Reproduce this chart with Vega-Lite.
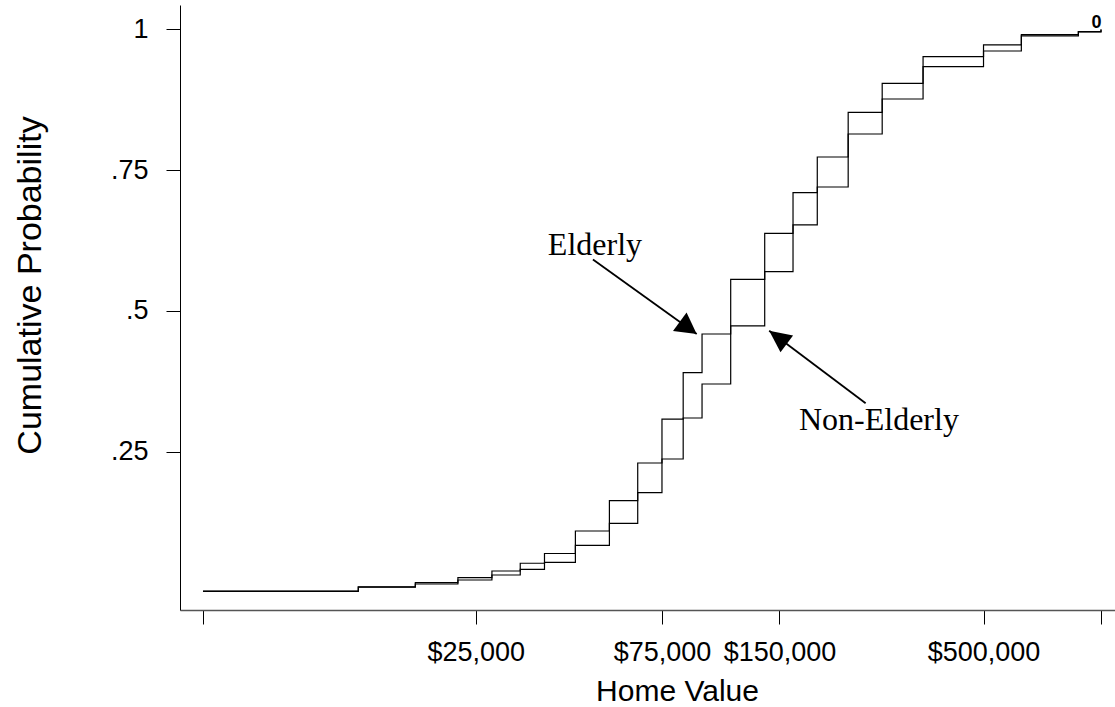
{
  "$schema": "https://vega.github.io/schema/vega-lite/v6.json",
  "width": 935,
  "height": 605,
  "autosize": {"type": "none"},
  "padding": {"left": 180, "top": 5, "right": 0, "bottom": 97},
  "background": "white",
  "config": {
    "view": {"stroke": null},
    "font": "Liberation Sans",
    "axis": {
      "grid": false,
      "domainColor": "black",
      "domainWidth": 1,
      "tickColor": "black",
      "tickWidth": 1,
      "tickSize": 14,
      "labelColor": "black",
      "labelFont": "Liberation Sans",
      "labelFontSize": 27,
      "titleColor": "black",
      "titleFont": "Liberation Sans",
      "titleFontWeight": "normal",
      "labelOverlap": false,
      "labelFlush": false
    }
  },
  "datasets": {
    "cdf": [
      {"value": 5000, "prob": 0.0025, "group": "Elderly"},
      {"value": 12500, "prob": 0.0100, "group": "Elderly"},
      {"value": 17500, "prob": 0.0174, "group": "Elderly"},
      {"value": 22500, "prob": 0.0263, "group": "Elderly"},
      {"value": 27500, "prob": 0.0382, "group": "Elderly"},
      {"value": 32500, "prob": 0.0519, "group": "Elderly"},
      {"value": 37500, "prob": 0.0693, "group": "Elderly"},
      {"value": 45000, "prob": 0.1092, "group": "Elderly"},
      {"value": 55000, "prob": 0.1631, "group": "Elderly"},
      {"value": 65000, "prob": 0.2300, "group": "Elderly"},
      {"value": 75000, "prob": 0.3078, "group": "Elderly"},
      {"value": 85000, "prob": 0.3904, "group": "Elderly"},
      {"value": 95000, "prob": 0.4591, "group": "Elderly"},
      {"value": 112500, "prob": 0.5563, "group": "Elderly"},
      {"value": 137500, "prob": 0.6380, "group": "Elderly"},
      {"value": 162500, "prob": 0.7101, "group": "Elderly"},
      {"value": 187500, "prob": 0.7735, "group": "Elderly"},
      {"value": 225000, "prob": 0.8529, "group": "Elderly"},
      {"value": 275000, "prob": 0.9044, "group": "Elderly"},
      {"value": 350000, "prob": 0.9517, "group": "Elderly"},
      {"value": 500000, "prob": 0.9725, "group": "Elderly"},
      {"value": 625000, "prob": 0.9908, "group": "Elderly"},
      {"value": 875000, "prob": 0.9962, "group": "Elderly"},
      {"value": 1000000, "prob": 1.0, "group": "Elderly"},
      {"value": 5000, "prob": 0.0020, "group": "Non-Elderly"},
      {"value": 12500, "prob": 0.0095, "group": "Non-Elderly"},
      {"value": 17500, "prob": 0.0151, "group": "Non-Elderly"},
      {"value": 22500, "prob": 0.0222, "group": "Non-Elderly"},
      {"value": 27500, "prob": 0.0311, "group": "Non-Elderly"},
      {"value": 32500, "prob": 0.0412, "group": "Non-Elderly"},
      {"value": 37500, "prob": 0.0536, "group": "Non-Elderly"},
      {"value": 45000, "prob": 0.0838, "group": "Non-Elderly"},
      {"value": 55000, "prob": 0.1229, "group": "Non-Elderly"},
      {"value": 65000, "prob": 0.1773, "group": "Non-Elderly"},
      {"value": 75000, "prob": 0.2371, "group": "Non-Elderly"},
      {"value": 85000, "prob": 0.3099, "group": "Non-Elderly"},
      {"value": 95000, "prob": 0.3703, "group": "Non-Elderly"},
      {"value": 112500, "prob": 0.4734, "group": "Non-Elderly"},
      {"value": 137500, "prob": 0.5698, "group": "Non-Elderly"},
      {"value": 162500, "prob": 0.6528, "group": "Non-Elderly"},
      {"value": 187500, "prob": 0.7202, "group": "Non-Elderly"},
      {"value": 225000, "prob": 0.8144, "group": "Non-Elderly"},
      {"value": 275000, "prob": 0.8765, "group": "Non-Elderly"},
      {"value": 350000, "prob": 0.9339, "group": "Non-Elderly"},
      {"value": 500000, "prob": 0.9618, "group": "Non-Elderly"},
      {"value": 625000, "prob": 0.9885, "group": "Non-Elderly"},
      {"value": 875000, "prob": 0.9958, "group": "Non-Elderly"},
      {"value": 1000000, "prob": 1.0, "group": "Non-Elderly"}
    ],
    "arrows": [
      {"label": "Elderly", "value": 49910, "prob": 0.5915, "value2": 92050, "prob2": 0.4591},
      {"label": "Non-Elderly", "value": 249400, "prob": 0.3361, "value2": 141200, "prob2": 0.4650}
    ],
    "notes": [
      {"label": "Elderly", "value": 50500, "prob": 0.5995},
      {"label": "Non-Elderly", "value": 269700, "prob": 0.2886}
    ],
    "tags": [
      {"value": 1000000, "prob": 1.0, "tag": "0"}
    ]
  },
  "layer": [
    {
      "data": {"name": "cdf"},
      "mark": {"type": "line", "interpolate": "step-after", "color": "black", "strokeWidth": 1.2},
      "encoding": {
        "x": {
          "field": "value",
          "type": "quantitative",
          "title": "Home Value",
          "scale": {"type": "log", "domain": [4366, 1086100], "nice": false},
          "axis": {
            "title": "Home Value",
            "values": [5000, 25000, 75000, 150000, 500000, 1000000],
            "labelExpr": "datum.value == 5000 || datum.value == 1000000 ? '' : '$' + format(datum.value, ',')",
            "labelPadding": 15,
            "domainColor": "#555555",
            "domainWidth": 1.6,
            "titleFontSize": 30,
            "titleX": 497,
            "titleY": 81,
            "titleBaseline": "middle",
            "titleAnchor": null
          }
        },
        "y": {
          "field": "prob",
          "type": "quantitative",
          "title": "Cumulative Probability",
          "scale": {"domain": [-0.0311, 1.0435], "nice": false, "zero": false},
          "axis": {
            "title": "Cumulative Probability",
            "values": [0.25, 0.5, 0.75, 1],
            "labelExpr": "datum.value == 1 ? '1' : slice(toString(datum.value), 1)",
            "labelPadding": 18,
            "titleFontSize": 34,
            "titleAngle": -90,
            "titleX": -150,
            "titleY": 280,
            "titleBaseline": "middle",
            "titleAlign": "center"
          }
        },
        "detail": {"field": "group", "type": "nominal"}
      }
    },
    {
      "data": {"name": "arrows"},
      "mark": {"type": "rule", "color": "black", "strokeWidth": 1.8},
      "encoding": {
        "x": {"field": "value", "type": "quantitative", "title": "Home Value"},
        "y": {"field": "prob", "type": "quantitative", "title": "Cumulative Probability"},
        "x2": {"field": "value2"},
        "y2": {"field": "prob2"}
      }
    },
    {
      "data": {"name": "arrows"},
      "transform": [{"filter": "datum.label == 'Elderly'"}],
      "mark": {"type": "point", "shape": "M0,0L-1.9,-1.05L-1.9,1.05Z", "filled": true, "color": "black", "opacity": 1, "size": 484, "angle": 36},
      "encoding": {
        "x": {"field": "value2", "type": "quantitative", "title": "Home Value"},
        "y": {"field": "prob2", "type": "quantitative", "title": "Cumulative Probability"}
      }
    },
    {
      "data": {"name": "arrows"},
      "transform": [{"filter": "datum.label == 'Non-Elderly'"}],
      "mark": {"type": "point", "shape": "M0,0L-2,-0.95L-2,0.95Z", "filled": true, "color": "black", "opacity": 1, "size": 484, "angle": 217},
      "encoding": {
        "x": {"field": "value2", "type": "quantitative", "title": "Home Value"},
        "y": {"field": "prob2", "type": "quantitative", "title": "Cumulative Probability"}
      }
    },
    {
      "data": {"name": "notes"},
      "mark": {"type": "text", "font": "Liberation Serif", "fontSize": 32, "align": "center", "baseline": "alphabetic", "color": "black"},
      "encoding": {
        "x": {"field": "value", "type": "quantitative", "title": "Home Value"},
        "y": {"field": "prob", "type": "quantitative", "title": "Cumulative Probability"},
        "text": {"field": "label"}
      }
    },
    {
      "data": {"name": "tags"},
      "mark": {"type": "text", "fontSize": 18, "fontWeight": "bold", "align": "center", "baseline": "alphabetic", "dx": -4.5, "dy": -1.5, "color": "black"},
      "encoding": {
        "x": {"field": "value", "type": "quantitative", "title": "Home Value"},
        "y": {"field": "prob", "type": "quantitative", "title": "Cumulative Probability"},
        "text": {"field": "tag"}
      }
    }
  ]
}
